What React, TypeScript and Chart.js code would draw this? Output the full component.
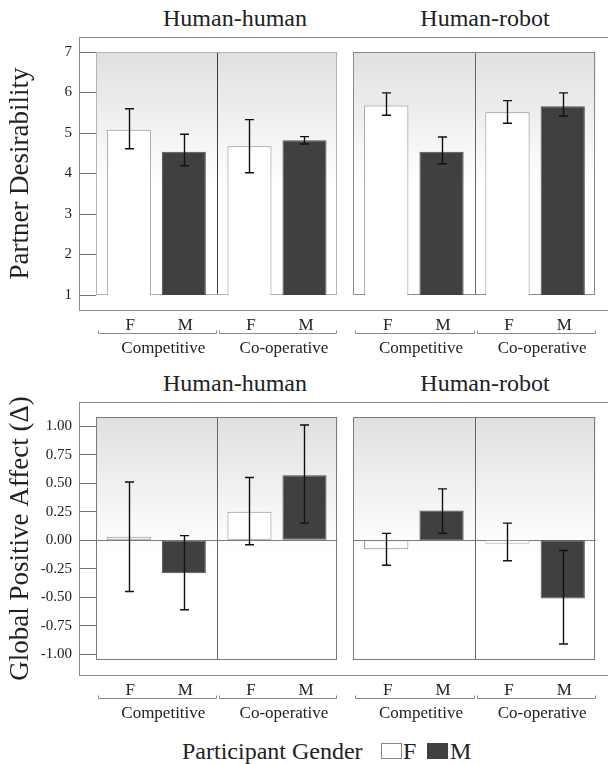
import React, { useEffect, useRef } from "react";
import { Chart, registerables } from "chart.js";

Chart.register(...registerables);

const FONT = "'Liberation Serif', 'Times New Roman', serif";
Chart.defaults.font.family = FONT;

const conditions = ["Competitive", "Co-operative"];
const genders = ["F", "M"];
const partnerTitles = ["Human-human", "Human-robot"];
const yTitles = ["Partner Desirability", "Global Positive Affect (\u0394)"];

const desirabilityTicks = [1, 2, 3, 4, 5, 6, 7];
const affectTicks = [-1, -0.75, -0.5, -0.25, 0, 0.25, 0.5, 0.75, 1];

// Partner desirability (means and error-bar bounds)
const desirHumanF = [5.08, 4.67];
const desirHumanM = [4.54, 4.82];
const desirHumanFLow = [4.61, 4.02];
const desirHumanFHigh = [5.6, 5.33];
const desirHumanMLow = [4.19, 4.73];
const desirHumanMHigh = [4.97, 4.91];

const desirRobotF = [5.68, 5.51];
const desirRobotM = [4.54, 5.66];
const desirRobotFLow = [5.44, 5.24];
const desirRobotFHigh = [5.99, 5.8];
const desirRobotMLow = [4.24, 5.42];
const desirRobotMHigh = [4.9, 5.99];

// Global positive affect change
const affectHumanF = [0.03, 0.25];
const affectHumanM = [-0.29, 0.57];
const affectHumanFLow = [-0.45, -0.04];
const affectHumanFHigh = [0.51, 0.55];
const affectHumanMLow = [-0.61, 0.15];
const affectHumanMHigh = [0.04, 1.01];

const affectRobotF = [-0.08, -0.03];
const affectRobotM = [0.26, -0.51];
const affectRobotFLow = [-0.22, -0.18];
const affectRobotFHigh = [0.06, 0.15];
const affectRobotMLow = [0.06, -0.91];
const affectRobotMHigh = [0.45, -0.09];

type PanelCfg = {
  f: number[];
  m: number[];
  fLo: number[];
  fHi: number[];
  mLo: number[];
  mHi: number[];
  min: number;
  max: number;
  ticks: number[];
  fmt: (v: number) => string;
  showY: boolean;
  yTitle: string;
  zero: boolean;
  border: string;
  divider: string;
  fBorder: string[];
};

function Panel(props: {
  cfg: PanelCfg;
  left: number;
  top: number;
  width: number;
  height: number;
  padL: number;
  padR: number;
}) {
  const { cfg, left, top, width, height, padL, padR } = props;
  const ref = useRef<HTMLCanvasElement>(null);

  useEffect(() => {
    const canvas = ref.current!;
    const lows = [cfg.fLo, cfg.mLo];
    const highs = [cfg.fHi, cfg.mHi];

    const deco = {
      id: "panelDeco",
      beforeDatasetsDraw(chart: any) {
        const { ctx, chartArea: a, scales } = chart;
        const xs = scales.x;
        const ys = scales.y;
        ctx.save();
        const g = ctx.createLinearGradient(0, a.top, 0, a.top + a.height * 0.55);
        g.addColorStop(0, "#e0e0e0");
        g.addColorStop(1, "#ffffff");
        ctx.fillStyle = g;
        ctx.fillRect(a.left, a.top, a.width, a.height);
        ctx.lineWidth = 1;
        if (cfg.zero) {
          const y0 = Math.round(ys.getPixelForValue(0)) + 0.5;
          ctx.strokeStyle = "#7a7a7a";
          ctx.beginPath();
          ctx.moveTo(a.left, y0);
          ctx.lineTo(a.right, y0);
          ctx.stroke();
        }
        ctx.strokeStyle = cfg.divider;
        for (let k = 1; k < conditions.length; k++) {
          const x = Math.round((xs.getPixelForValue(k - 1) + xs.getPixelForValue(k)) / 2) + 0.5;
          ctx.beginPath();
          ctx.moveTo(x, a.top);
          ctx.lineTo(x, a.bottom);
          ctx.stroke();
        }
        ctx.strokeStyle = cfg.border;
        ctx.strokeRect(
          Math.round(a.left) + 0.5,
          Math.round(a.top) + 0.5,
          Math.round(a.width) - 1,
          Math.round(a.height) - 1
        );
        ctx.restore();
      },
      afterDatasetsDraw(chart: any) {
        const { ctx, chartArea: a, scales } = chart;
        const xs = scales.x;
        const ys = scales.y;
        ctx.save();
        // error bars
        ctx.strokeStyle = "#111";
        ctx.lineWidth = 1.4;
        chart.data.datasets.forEach((_ds: any, i: number) => {
          const meta = chart.getDatasetMeta(i);
          meta.data.forEach((bar: any, j: number) => {
            const x = Math.round(bar.x) + 0.5;
            const yl = ys.getPixelForValue(lows[i][j]);
            const yh = ys.getPixelForValue(highs[i][j]);
            ctx.beginPath();
            ctx.moveTo(x, yl);
            ctx.lineTo(x, yh);
            ctx.moveTo(x - 4.5, yl);
            ctx.lineTo(x + 4.5, yl);
            ctx.moveTo(x - 4.5, yh);
            ctx.lineTo(x + 4.5, yh);
            ctx.stroke();
          });
        });
        // gender labels under each bar
        ctx.fillStyle = "#222";
        ctx.font = "17px " + FONT;
        ctx.textAlign = "center";
        ctx.textBaseline = "alphabetic";
        chart.data.datasets.forEach((_ds: any, i: number) => {
          const meta = chart.getDatasetMeta(i);
          meta.data.forEach((bar: any) => {
            ctx.fillText(genders[i], bar.x + 1.5, a.bottom + 34.5);
          });
        });
        // brackets
        ctx.strokeStyle = "#8a8a8a";
        ctx.lineWidth = 1;
        const half = a.width / conditions.length / 2;
        const by = Math.round(a.bottom + 38) + 0.5;
        conditions.forEach((_c, j) => {
          const c = xs.getPixelForValue(j);
          const x0 = Math.round(c - half + 2) + 0.5;
          const x1 = Math.round(c + half - 1) + 0.5;
          ctx.beginPath();
          ctx.moveTo(x0, by - 3);
          ctx.lineTo(x0, by);
          ctx.lineTo(x1, by);
          ctx.lineTo(x1, by - 3);
          ctx.stroke();
        });
        ctx.restore();
      },
    };

    const chart = new Chart(canvas, {
      type: "bar",
      data: {
        labels: conditions,
        datasets: [
          {
            label: genders[0],
            data: cfg.f,
            backgroundColor: "#ffffff",
            borderColor: cfg.fBorder,
            borderWidth: 1,
            borderSkipped: false,
            categoryPercentage: 0.912,
            barPercentage: 0.8,
          },
          {
            label: genders[1],
            data: cfg.m,
            backgroundColor: "#404040",
            borderColor: "#505050",
            borderWidth: 1,
            borderSkipped: false,
            categoryPercentage: 0.912,
            barPercentage: 0.8,
          },
        ],
      },
      options: {
        responsive: false,
        animation: false,
        events: [],
        layout: { padding: { left: padL, right: padR, top: 22, bottom: 0 } },
        plugins: { legend: { display: false }, tooltip: { enabled: false } },
        scales: {
          x: {
            afterFit: (s: any) => {
              s.height = 67;
            },
            grid: { display: false, drawTicks: true, tickLength: 43 },
            border: { display: false },
            ticks: {
              padding: 0,
              labelOffset: 7,
              color: "#222",
              font: { family: FONT, size: 17 },
              maxRotation: 0,
              autoSkip: false,
            },
          },
          y: {
            display: cfg.showY,
            min: cfg.min,
            max: cfg.max,
            afterBuildTicks: (s: any) => {
              s.ticks = cfg.ticks.map((v) => ({ value: v }));
            },
            afterFit: (s: any) => {
              s.width = cfg.showY ? 96 : 0;
            },
            grid: {
              drawOnChartArea: false,
              drawTicks: true,
              tickLength: 17,
              color: "#707070",
            },
            border: { display: false },
            ticks: {
              padding: 7,
              color: "#222",
              font: { family: FONT, size: 15 },
              callback: (v: any) => cfg.fmt(Number(v)),
            },
            title: {
              display: true,
              text: cfg.yTitle,
              color: "#222",
              font: { family: FONT, size: 27 },
              padding: { top: 5, bottom: 0 },
            },
          },
        },
      },
      plugins: [deco],
    } as any);
    return () => chart.destroy();
  }, []);

  return (
    <canvas
      ref={ref}
      width={width}
      height={height}
      style={{ position: "absolute", left, top, width, height }}
    />
  );
}

const fmtInt = (v: number) => String(v);
const fmt2 = (v: number) => v.toFixed(2);

const rows: PanelCfg[][] = [
  [
    {
      f: desirHumanF, m: desirHumanM, fLo: desirHumanFLow, fHi: desirHumanFHigh,
      mLo: desirHumanMLow, mHi: desirHumanMHigh, min: 1, max: 7, ticks: desirabilityTicks,
      fmt: fmtInt, showY: true, yTitle: yTitles[0], zero: false,
      border: "#a8baba", divider: "#3c3c3c", fBorder: ["#8c8c8c", "#8c8c8c"],
    },
    {
      f: desirRobotF, m: desirRobotM, fLo: desirRobotFLow, fHi: desirRobotFHigh,
      mLo: desirRobotMLow, mHi: desirRobotMHigh, min: 1, max: 7, ticks: desirabilityTicks,
      fmt: fmtInt, showY: false, yTitle: yTitles[0], zero: false,
      border: "#8a8a8a", divider: "#666666", fBorder: ["#8c8c8c", "#8c8c8c"],
    },
  ],
  [
    {
      f: affectHumanF, m: affectHumanM, fLo: affectHumanFLow, fHi: affectHumanFHigh,
      mLo: affectHumanMLow, mHi: affectHumanMHigh, min: -1.05, max: 1.08, ticks: affectTicks,
      fmt: fmt2, showY: true, yTitle: yTitles[1], zero: true,
      border: "#7a7a7a", divider: "#666666", fBorder: ["#8c8c8c", "#8c8c8c"],
    },
    {
      f: affectRobotF, m: affectRobotM, fLo: affectRobotFLow, fHi: affectRobotFHigh,
      mLo: affectRobotMLow, mHi: affectRobotMHigh, min: -1.05, max: 1.08, ticks: affectTicks,
      fmt: fmt2, showY: false, yTitle: yTitles[1], zero: true,
      border: "#7a7a7a", divider: "#666666", fBorder: ["#808080", "#b5b5b5"],
    },
  ],
];

const ROW_STEP = 365;
const titleCenters = [235, 485];

export default function App() {
  const txt = (extra: React.CSSProperties): React.CSSProperties => ({
    position: "absolute",
    whiteSpace: "nowrap",
    ...extra,
  });
  return (
    <div
      style={{
        position: "absolute",
        left: 0,
        top: 0,
        width: 608,
        height: 764,
        overflow: "hidden",
        background: "#ffffff",
        fontFamily: FONT,
        color: "#222",
      }}
    >
      {rows.map((row, r) => (
        <React.Fragment key={r}>
          <div
            style={{
              position: "absolute",
              left: 79,
              top: 37 + r * ROW_STEP,
              width: 620,
              height: 274,
              border: "1px solid #8a8a8a",
              boxSizing: "border-box",
            }}
          />
          {partnerTitles.map((t, c) => (
            <div
              key={t}
              style={txt({
                left: titleCenters[c] - 100,
                top: 6 + r * ROW_STEP,
                width: 200,
                textAlign: "center",
                fontSize: 24,
                lineHeight: "24px",
              })}
            >
              {t}
            </div>
          ))}
          <Panel cfg={row[0]} left={0} top={30 + r * ROW_STEP} width={345} height={332} padL={0} padR={7.7} />
          <Panel cfg={row[1]} left={345} top={30 + r * ROW_STEP} width={263} height={332} padL={8.3} padR={12.3} />
        </React.Fragment>
      ))}
      <div style={txt({ left: 182, top: 739, fontSize: 24, lineHeight: "24px" })}>Participant Gender</div>
      <div
        style={{
          position: "absolute",
          left: 381,
          top: 743,
          width: 21,
          height: 16,
          border: "1px solid #888",
          boxSizing: "border-box",
          background: "#fff",
        }}
      />
      <div style={txt({ left: 403, top: 739, fontSize: 24, lineHeight: "24px" })}>{genders[0]}</div>
      <div
        style={{
          position: "absolute",
          left: 427,
          top: 743,
          width: 21,
          height: 16,
          background: "#404040",
        }}
      />
      <div style={txt({ left: 450, top: 739, fontSize: 24, lineHeight: "24px" })}>{genders[1]}</div>
    </div>
  );
}
